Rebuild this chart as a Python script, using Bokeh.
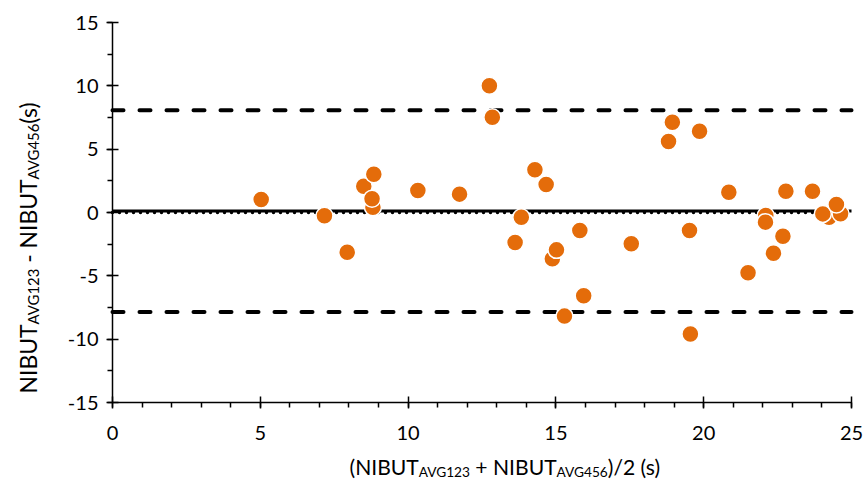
import glob
import os
import numpy as np
from bokeh.plotting import figure
from bokeh.models import Label, SingleIntervalTicker, Range1d, ColumnDataSource, LinearAxis
from bokeh.embed import file_html
from bokeh.resources import INLINE

# ---- data ----
mean_values = [5.03, 7.17, 7.94, 8.50, 8.84, 8.81, 8.78, 10.33, 11.74, 12.75,
               12.85, 14.29, 14.67, 13.83, 13.62, 14.88, 15.02, 15.81, 15.94, 15.29,
               17.55, 18.81, 18.94, 19.86, 19.52, 19.55, 20.85, 21.50, 22.10, 22.09,
               22.68, 22.36, 22.78, 23.68, 24.24, 24.63, 24.03, 24.49]
diff_values = [1.03, -0.26, -3.13, 2.08, 3.02, 0.42, 1.08, 1.74, 1.45, 10.0,
               7.52, 3.37, 2.21, -0.37, -2.37, -3.66, -2.95, -1.42, -6.58, -8.18,
               -2.47, 5.6, 7.13, 6.42, -1.42, -9.6, 1.6, -4.76, -0.24, -0.76,
               -1.87, -3.21, 1.68, 1.68, -0.37, -0.1, -0.11, 0.63]
bias = 0.12
zero_line = 0.0
upper_loa = 8.08
lower_loa = -7.86
x_axis_vals = [0, 25]
y_axis_vals = [-15, 15]
y_tick_vals = [-15, -10, -5, 0, 5, 10, 15]
y_tick_labels = ["-15", "-10", "-5", "0", "5", "10", "15"]

FONT = "Lato"
ORANGE = "#E46C0A"

# ---- text measurement helper (for composing sub-scripted titles) ----
def find_font():
    roots = ["/usr/share/fonts", "/usr/local/share/fonts", os.path.expanduser("~/.fonts"),
             os.path.expanduser("~/.local/share/fonts")]
    for root in roots:
        for pat in ["Lato-Regular.ttf", "Lato-Reg*.ttf", "Lato*Regular*.ttf"]:
            hits = glob.glob(os.path.join(root, "**", pat), recursive=True)
            if hits:
                return hits[0]
    return None

_font_path = find_font()
_font_obj = {}

def text_width(text, size):
    if _font_path:
        try:
            from PIL import ImageFont
            if "f" not in _font_obj:
                _font_obj["f"] = ImageFont.truetype(_font_path, 100)
            return _font_obj["f"].getlength(text) * size / 100.0
        except Exception:
            pass
    return len(text) * 0.55 * size

SUB_RATIO = 0.65

def layout_pieces(pieces, target_width):
    w100 = sum(text_width(t, 100 * (SUB_RATIO if s else 1.0)) for t, s in pieces)
    size = 100.0 * target_width / w100
    offs = []
    pos = 0.0
    for t, s in pieces:
        fs = size * (SUB_RATIO if s else 1.0)
        # SVG collapses leading blanks: draw the trimmed text after the blank's width
        lead = len(t) - len(t.lstrip(" "))
        shown = t.lstrip(" ")
        offs.append((shown, s, fs, pos + text_width(" " * lead, fs)))
        pos += text_width(t, fs)
    return size, offs

# ---- canvas geometry (pixels) ----
W, H = 863, 484
PX_X0, PX_X1 = 112, 851      # where x = 0 and x = 25 lie
PX_YT, PX_YB = 22, 402       # where y = 15 and y = -15 lie
ux = (PX_X1 - PX_X0) / (x_axis_vals[1] - x_axis_vals[0])
uy = (PX_YB - PX_YT) / (y_axis_vals[1] - y_axis_vals[0])
xr = Range1d(x_axis_vals[0] - PX_X0 / ux, x_axis_vals[1] + (W - PX_X1) / ux)
yr = Range1d(y_axis_vals[0] - (H - PX_YB) / uy, y_axis_vals[1] + PX_YT / uy)

p = figure(width=W, height=H, output_backend="svg", toolbar_location=None,
           x_range=xr, y_range=yr, x_axis_location=None, y_axis_location=None)
p.min_border = 0
p.min_border_left = 0
p.min_border_right = 0
p.min_border_top = 0
p.min_border_bottom = 0
p.outline_line_color = None
p.xgrid.visible = False
p.ygrid.visible = False
p.background_fill_color = "white"
p.border_fill_color = "white"

xaxis = LinearAxis(fixed_location=y_axis_vals[0], bounds=tuple(x_axis_vals),
                   ticker=SingleIntervalTicker(interval=5, num_minor_ticks=5))
yaxis = LinearAxis(fixed_location=x_axis_vals[0], bounds=tuple(y_axis_vals),
                   ticker=SingleIntervalTicker(interval=5, num_minor_ticks=2))
yaxis.major_label_overrides = {v: s for v, s in zip(y_tick_vals, y_tick_labels)}

for ax in (xaxis, yaxis):
    ax.axis_line_color = "black"
    ax.axis_line_width = 1.5
    ax.major_tick_line_color = "black"
    ax.major_tick_line_width = 1.5
    ax.minor_tick_line_color = "black"
    ax.minor_tick_line_width = 1.5
    ax.major_tick_in = 6
    ax.major_tick_out = 6
    ax.minor_tick_in = 0
    ax.minor_tick_out = 5
    ax.major_label_text_font = FONT
    ax.major_label_text_font_size = "20px"
    ax.major_label_text_color = "black"
xaxis.major_label_standoff = 17
yaxis.major_label_standoff = 8
p.add_layout(xaxis, "below")
p.add_layout(yaxis, "left")

# reference lines (bias, zero, limits of agreement)
p.line(x=x_axis_vals, y=[upper_loa, upper_loa], line_color="black", line_width=4,
       line_dash="11 16", line_cap="round")
p.line(x=x_axis_vals, y=[lower_loa, lower_loa], line_color="black", line_width=4,
       line_dash="11 16", line_cap="round")
p.line(x=x_axis_vals, y=[zero_line, zero_line], line_color="black", line_width=3.5,
       line_dash="0 7", line_cap="round")
p.line(x=x_axis_vals, y=[bias, bias], line_color="black", line_width=3)

src = ColumnDataSource(dict(x=mean_values, y=diff_values))
p.scatter("x", "y", source=src, size=17, fill_color=ORANGE, line_color="white",
          line_width=1.5, marker="circle")

TEXT_SHIFT = 11  # empirical correction of the rendered baseline

# ---- x axis title with subscripts ----
x_pieces = [("(NIBUT", False), ("AVG123", True), (" + NIBUT", False),
            ("AVG456", True), (")/2 (s)", False)]
x_start, x_end = 349, 660
size_x, offs_x = layout_pieces(x_pieces, x_end - x_start)
main_baseline = 477 - TEXT_SHIFT
for t, s, fs, pos in offs_x:
    by = main_baseline + (5 if s else 0)
    p.add_layout(Label(x=x_axis_vals[0], y=y_axis_vals[0],
                       x_offset=(x_start - PX_X0) + pos, y_offset=-(by - PX_YB), text=t,
                       text_font=FONT, text_font_size=f"{fs:.1f}px", text_color="black",
                       text_align="left", text_baseline="alphabetic"))

# ---- y axis title (rotated) with subscripts ----
y_pieces = [("NIBUT", False), ("AVG123", True), (" - NIBUT", False),
            ("AVG456", True), ("(s)", False)]
y_start, y_end = 393, 102
size_y, offs_y = layout_pieces(y_pieces, y_start - y_end)
main_baseline_x = 38 - TEXT_SHIFT
for t, s, fs, pos in offs_y:
    bx = main_baseline_x + (5 if s else 0)
    p.add_layout(Label(x=x_axis_vals[0], y=y_axis_vals[0],
                       x_offset=bx - PX_X0, y_offset=(PX_YB - y_start) + pos, text=t,
                       angle=np.pi / 2,
                       text_font=FONT, text_font_size=f"{fs:.1f}px", text_color="black",
                       text_align="left", text_baseline="alphabetic"))

open("out.html", "w").write(file_html(p, INLINE))
